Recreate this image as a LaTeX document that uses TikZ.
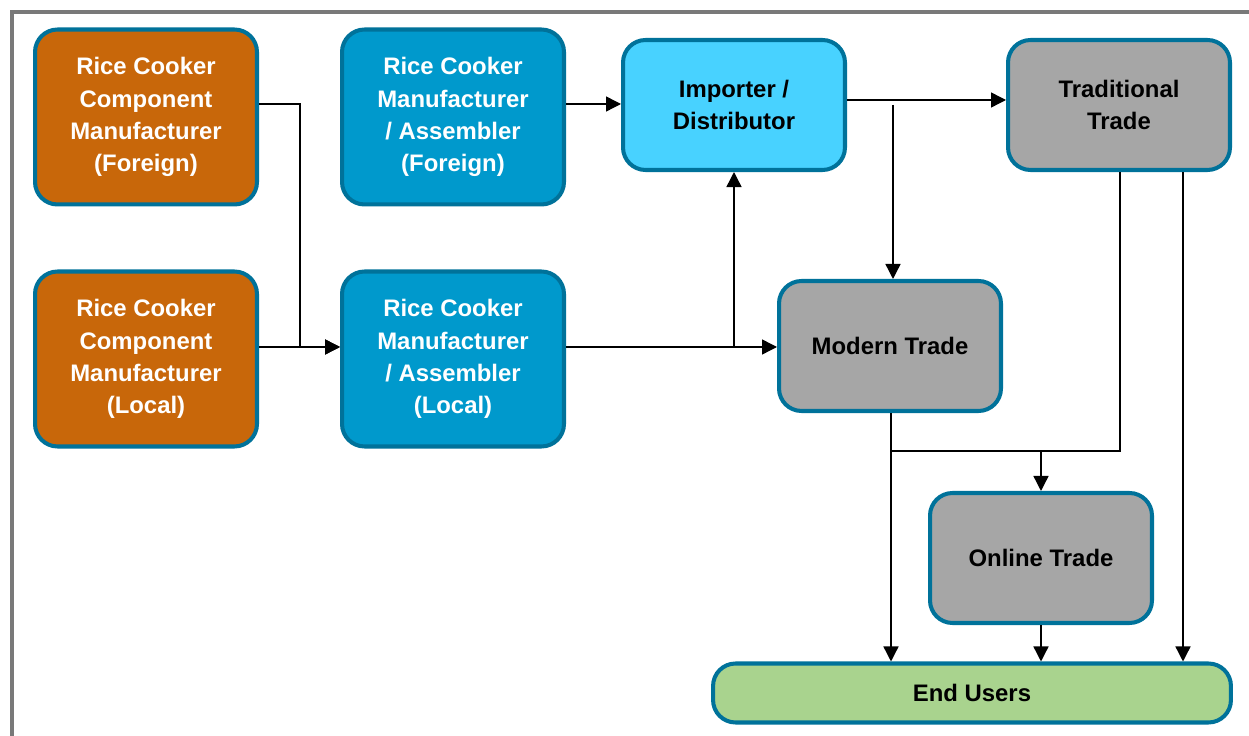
\documentclass[tikz,border=0pt]{standalone}
\usepackage{fontspec}
\setmainfont{Liberation Sans}
\usetikzlibrary{arrows.meta}

\definecolor{rimblue}{HTML}{00729A}
\definecolor{partorange}{HTML}{C8670A}
\definecolor{makerblue}{HTML}{0099CC}
\definecolor{importblue}{HTML}{48D2FF}
\definecolor{tradegray}{HTML}{A6A6A6}
\definecolor{usergreen}{HTML}{A9D38E}

\tikzset{
  box/.style={draw=rimblue, line width=2.3pt, rounded corners=0.45cm,
    align=center, font=\bfseries\fontsize{13.6}{18.3}\selectfont},
  tallbox/.style={box, minimum width=4.44cm, minimum height=3.5cm},
  flatbox/.style={box, minimum width=4.44cm, minimum height=2.6cm},
  flow/.style={-{Triangle[length=0.3cm,width=0.3cm]}, line width=0.8pt},
  link/.style={line width=0.8pt}
}

\begin{document}
\begin{tikzpicture}[x={(0.02cm,0)},y={(0,-0.02cm)}]
        \useasboundingbox (0,0) rectangle (1249,736);

        % outer frame
        \draw[gray!95!black,line width=2.3pt] (12,740) -- (12,12) -- (1253,12);

        % makers
        \node[tallbox,fill=partorange,text=white] (compf) at (146,117)
            {Rice Cooker\\Component\\Manufacturer\\(Foreign)};
        \node[tallbox,fill=partorange,text=white] (compl) at (146,359)
            {Rice Cooker\\Component\\Manufacturer\\(Local)};
        \node[tallbox,fill=makerblue,text=white] (mfrf) at (453,117)
            {Rice Cooker\\Manufacturer\\/ Assembler\\(Foreign)};
        \node[tallbox,fill=makerblue,text=white] (mfrl) at (453,359)
            {Rice Cooker\\Manufacturer\\/ Assembler\\(Local)};

        % trade channels
        \node[flatbox,fill=importblue] (imp) at (734,105) {Importer /\\Distributor};
        \node[flatbox,fill=tradegray] (trad) at (1119,105) {Traditional\\Trade};
        \node[flatbox,fill=tradegray] (modern) at (890,346) {Modern Trade};
        \node[flatbox,fill=tradegray] (online) at (1041,558) {Online Trade};
        \node[box,fill=usergreen,minimum width=10.36cm,minimum height=1.18cm]
            (endusers) at (972,693) {End Users};

        % components to assemblers
        \draw[flow] (compf.east |- 0,104) -- (300,104) |- (mfrl.west |- 0,347);
        \draw[flow] (compl.east |- 0,347) -- (mfrl.west |- 0,347);

        % assemblers to trade
        \draw[flow] (mfrf.east |- 0,104) -- (imp.west |- 0,104);
        \draw[flow] (mfrl.east |- 0,347) -- (modern.west |- 0,347);
        \draw[flow] (734,347) -- (imp.south);

        % importer onwards
        \draw[flow] (imp.east |- 0,100) -- (trad.west |- 0,100);
        \draw[flow] (893,105) -- (modern.north -| 893,0);

        % into online trade
        \draw[flow] (trad.south -| 1120,0) -- (1120,451) -| (online.north);
        \draw[link] (891,451) -- (1041,451);

        % to the end users
        \draw[flow] (modern.south -| 891,0) -- (endusers.north -| 891,0);
        \draw[flow] (online.south) -- (endusers.north -| online.south);
        \draw[flow] (trad.south -| 1183,0) -- (endusers.north -| 1183,0);
\end{tikzpicture}
\end{document}
